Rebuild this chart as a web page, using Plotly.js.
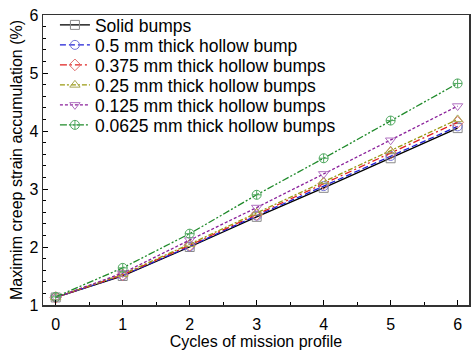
<!DOCTYPE html>
<html>
<head>
<meta charset="utf-8">
<script src="https://cdn.plot.ly/plotly-3.0.1.min.js"></script>
<style>html,body{margin:0;padding:0;background:#fff;}#chart{width:476px;height:350px;}</style>
</head>
<body>
<div id="chart"></div>
<script>
const cycles = [0, 1, 2, 3, 4, 5, 6];
const seriesNames = [
  "Solid bumps",
  "0.5 mm thick hollow bump",
  "0.375 mm thick hollow bumps",
  "0.25 mm thick hollow bumps",
  "0.125 mm thick hollow bumps",
  "0.0625 mm thick hollow bumps"
];
const solid   = [1.13, 1.50, 2.00, 2.52, 3.02, 3.53, 4.05];
const t0500   = [1.13, 1.51, 2.01, 2.54, 3.05, 3.57, 4.08];
const t0375   = [1.13, 1.52, 2.03, 2.56, 3.09, 3.62, 4.15];
const t0250   = [1.13, 1.53, 2.05, 2.59, 3.13, 3.66, 4.20];
const t0125   = [1.13, 1.55, 2.12, 2.68, 3.26, 3.84, 4.43];
const t0625   = [1.14, 1.64, 2.23, 2.90, 3.53, 4.18, 4.82];
const seriesValues = [solid, t0500, t0375, t0250, t0125, t0625];

const lineColors = ["#000000", "#1f1fd6", "#e0201f", "#9a9a10", "#8a1f9a", "#1f8a2a"];
const markerColors = ["#8a8a8a", "#7070d8", "#e07070", "#a8a850", "#b070c0", "#50a860"];
const symbols = ["square-open", "circle-open", "diamond-open", "triangle-up-open", "triangle-down-open", "circle-cross-open"];
const dashes = ["solid", "6px,3px", "7px,3px,2px,3px", "5px,2px,2px,2px", "3px,2px", "7px,2px,2px,2px,2px,2px"];

const legendFont = {family: "Liberation Sans, Arial, sans-serif", size: 17.5, color: "#000"};
const legendIds = ["legend", "legend2", "legend3", "legend4", "legend5", "legend6"];

const traces = seriesValues.map((vals, i) => ({
  x: cycles, y: vals, name: seriesNames[i], type: "scatter", mode: "lines+markers",
  legend: legendIds[i],
  line: {color: lineColors[i], width: 1.3, dash: dashes[i]},
  marker: {symbol: symbols[i], size: 9, color: markerColors[i], line: {color: markerColors[i], width: 1}}
}));

const font = {family: "Liberation Sans, Arial, sans-serif", size: 16, color: "#000"};
const layout = {
  width: 476, height: 350,
  margin: {l: 43, r: 7, t: 15, b: 45},
  paper_bgcolor: "#fff", plot_bgcolor: "#fff",
  font: font,
  showlegend: true,
  xaxis: {
    range: [-0.19, 6.17], tickvals: cycles, ticktext: cycles.map(String),
    ticks: "inside", ticklen: 5, tickwidth: 1, tickcolor: "#000",
    minor: {dtick: 0.5, tick0: 0, ticks: "inside", ticklen: 3, tickcolor: "#000"},
    showline: true, linecolor: "#333", linewidth: 1.5, mirror: true,
    showgrid: false, zeroline: false, ticklabelstandoff: 4,
    title: {text: "Cycles of mission profile", font: font, standoff: 0},
    tickfont: font
  },
  yaxis: {
    range: [1, 6], dtick: 1,
    ticks: "inside", ticklen: 5, tickwidth: 1, tickcolor: "#000",
    minor: {dtick: 0.2, ticks: "inside", ticklen: 3, tickcolor: "#000"},
    showline: true, linecolor: "#333", linewidth: 1.5, mirror: true,
    showgrid: false, zeroline: false,
    title: {text: "Maximim creep strain accumulation (%)", font: font, standoff: 3},
    tickfont: font
  }
};
legendIds.forEach((id, i) => {
  layout[id] = {
    x: 0.028, y: (305 - 25 - 20 * i) / 290, xanchor: "left", yanchor: "middle",
    bgcolor: "rgba(0,0,0,0)", borderwidth: 0, font: legendFont, itemwidth: 30
  };
});
Plotly.newPlot("chart", traces, layout, {displayModeBar: false, staticPlot: true});
</script>
</body>
</html>
